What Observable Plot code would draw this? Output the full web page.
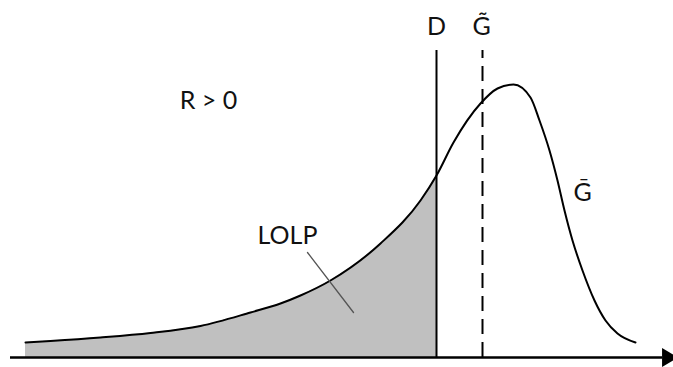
<!DOCTYPE html>
<html>
<head>
<meta charset="utf-8">
<script src="https://cdn.jsdelivr.net/npm/d3@7"></script>
<script src="https://cdn.jsdelivr.net/npm/@observablehq/plot@0.6"></script>
<style>
  html, body { margin: 0; padding: 0; background: #fff; }
  svg { display: block; }
</style>
</head>
<body>
<div id="chart"></div>
<script>
// Distribution of available generation (arbitrary units)
const curveX = [25, 50, 100, 150, 200, 250, 280, 300, 330, 380, 420, 436, 453, 480, 497, 513, 530, 539, 549, 557, 564, 572, 582, 594, 605, 617, 635];
const curveY = [15, 16.5, 20, 24.5, 31.5, 45, 54, 62, 77, 114, 157, 182, 215, 254, 269, 273, 260, 237, 207, 177, 147, 117, 87, 57, 37, 24, 15];

// Demand D and expected generation G~
const demandX = 436;
const expectedX = 482;
const markerTop = 307;

// Horizontal axis extent
const axisStart = 10;
const axisEnd = 662;
const arrowAt = 667;

// Labels
const labelText = ["D", "G\u0303", "\u1E20", "R > 0", "LOLP"];
const labelX = [436, 481, 582, 208, 287];
const labelY = [331, 331, 165, 257, 122];

// LOLP leader line
const leaderX = [307, 353];
const leaderY = [105, 45];

const curve = curveX.map((x, i) => ({x, y: curveY[i]}));
const shaded = curve.filter(d => d.x <= demandX);
const labels = labelText.map((t, i) => ({t, x: labelX[i], y: labelY[i]}));

const chart = Plot.plot({
  width: 673,
  height: 367,
  margin: 0,
  marginBottom: 10,
  x: {domain: [0, 673], axis: null},
  y: {domain: [0, 357], axis: null},
  style: {fontFamily: "Lato, 'Open Sans', sans-serif", background: "#fff"},
  marks: [
    Plot.areaY(shaded, {x: "x", y: "y", fill: "#c0c0c0", curve: "monotone-x"}),
    Plot.line(curve, {x: "x", y: "y", stroke: "#000", strokeWidth: 2, curve: "monotone-x"}),
    Plot.ruleX([demandX], {y1: 0, y2: markerTop, stroke: "#000", strokeWidth: 2}),
    Plot.ruleX([expectedX], {y1: 0, y2: markerTop, stroke: "#000", strokeWidth: 2, strokeDasharray: "15,8"}),
    Plot.line([{x: leaderX[0], y: leaderY[0]}, {x: leaderX[1], y: leaderY[1]}], {x: "x", y: "y", stroke: "#555", strokeWidth: 1.3}),
    Plot.ruleY([0], {x1: axisStart, x2: axisEnd, stroke: "#000", strokeWidth: 2.5}),
    Plot.dot([{x: arrowAt, y: 0}], {x: "x", y: "y", symbol: "triangle", r: 7, rotate: 90, fill: "#000", stroke: "none"}),
    Plot.text(labels, {x: "x", y: "y", text: "t", fontSize: 25, fill: "#111", textAnchor: "middle", lineAnchor: "middle"})
  ]
});
document.getElementById("chart").appendChild(chart);
</script>
</body>
</html>
